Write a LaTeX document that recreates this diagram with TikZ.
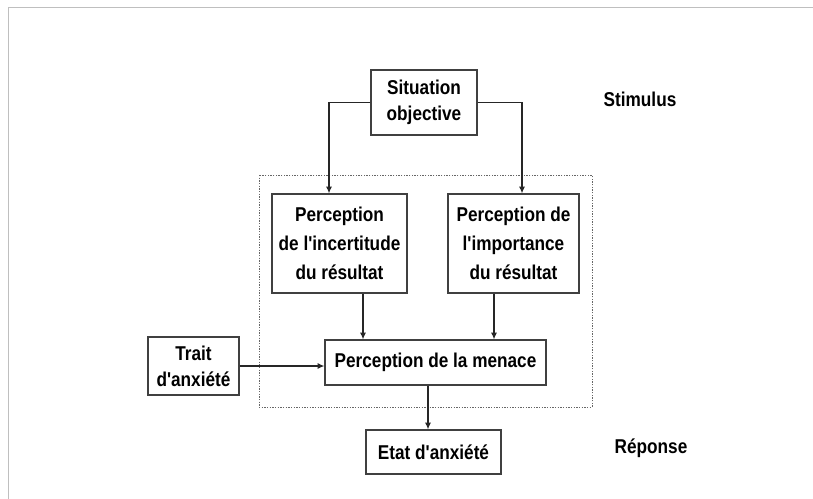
\documentclass[tikz,border=0pt]{standalone}
\usepackage{fontspec}
\setmainfont{Liberation Sans}[Ligatures=TeXOff,FakeStretch=0.86]
\usetikzlibrary{arrows.meta}
\tikzset{
  boite/.style={draw=black!75, line width=1pt, inner sep=2pt, align=center},
  fleche/.style={->, draw=black!85, line width=0.85pt},
  zone/.style={draw=black!60, line width=0.75pt, dash pattern=on 1pt off 1pt},
  cadre/.style={draw=black!25, line width=0.75pt}
}
\begin{document}
\begin{tikzpicture}[x=0.75pt,y=-0.75pt,>={Latex[length=5pt,width=4.5pt]},font=\bfseries\fontsize{15}{19.5}\selectfont]
                \useasboundingbox (0,0) rectangle (813,499);
                \draw[cadre] (8,499) -- (8,8) -- (813,8);
                \draw[zone] (259,175) rectangle (592,407);

                \node[boite, minimum width=79.5pt, minimum height=48.75pt] (sitobj) at (424,102.5) {Situation\\objective};
                \node[boite, minimum width=101.25pt, minimum height=74.25pt, font=\bfseries\fontsize{15}{22}\selectfont] (percinc) at (339.5,243.5) {Perception\\de l'incertitude\\du résultat};
                \node[boite, minimum width=98.25pt, minimum height=74.25pt, font=\bfseries\fontsize{15}{22}\selectfont] (percimp) at (513.5,243.5) {Perception de\\l'importance\\du résultat};
                \node[boite, minimum width=165.75pt, minimum height=33.75pt] (percmen) at (435.5,362.5) {Perception de la menace};
                \node[boite, minimum width=68.25pt, minimum height=43.5pt] (traitanx) at (193.5,366) {Trait\\d'anxiété};
                \node[boite, minimum width=101.25pt, minimum height=33pt] (etatanx) at (433.5,452) {Etat d'anxiété};
                \node (stim) at (640,99) {Stimulus};
                \node (rep) at (651,448) {Réponse};

                \draw[fleche] (sitobj.west) -| (329,0 |- percinc.north);
                \draw[fleche] (sitobj.east) -| (522,0 |- percimp.north);
                \draw[fleche] (363,0 |- percinc.south) -- (363,0 |- percmen.north);
                \draw[fleche] (494,0 |- percimp.south) -- (494,0 |- percmen.north);
                \draw[fleche] (traitanx.east) -- (percmen.west |- traitanx.east);
                \draw[fleche] (428,0 |- percmen.south) -- (428,0 |- etatanx.north);
            \end{tikzpicture}
\end{document}
